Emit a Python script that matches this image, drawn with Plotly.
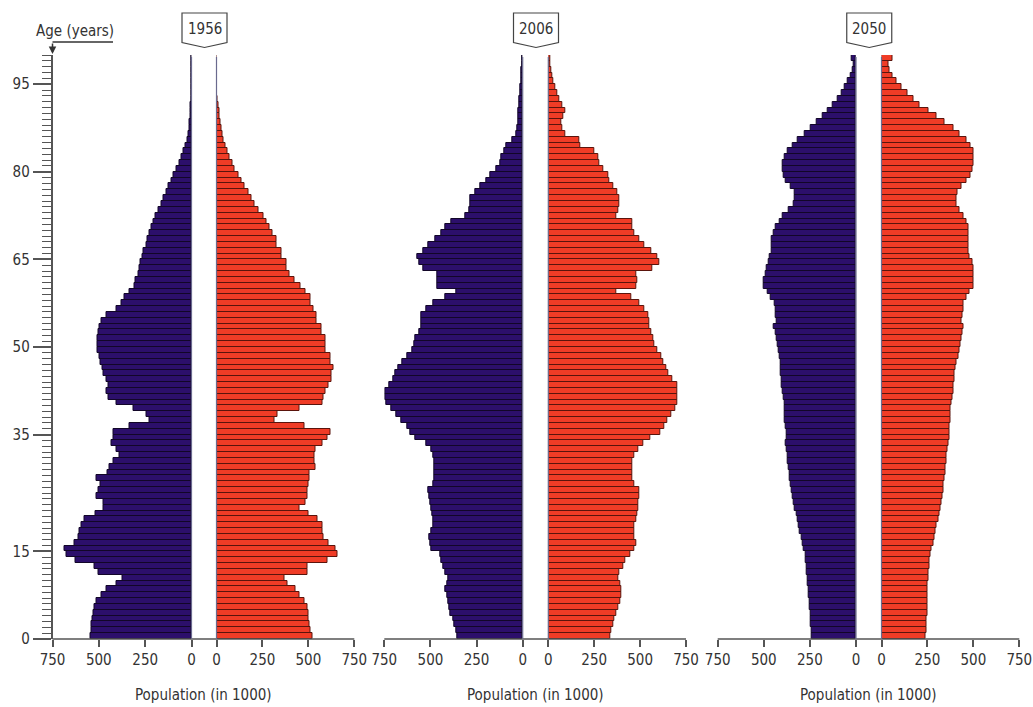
import plotly.graph_objects as go

ages = list(range(100))
major_ticks = [0, 15, 35, 50, 65, 80, 95]
x_ticks = [0, 250, 500, 750]
years = ["1956", "2006", "2050"]

male_1956 = [545,540,538,534,531,522,513,486,459,405,372,504,522,624,675,684,630,612,603,594,
             576,520,473,477,513,504,490,513,455,441,423,387,405,432,423,420,333,225,243,315,
             405,450,459,450,460,475,478,493,495,506,508,506,500,497,484,457,404,377,359,332,
             305,300,288,282,276,262,258,245,240,225,215,205,195,179,161,152,135,126,108,95,
             81,66,54,41,30,23,16,13,9,7,5,3,2,0,0,0,0,0,0,0]
female_1956 = [522,510,505,500,500,495,477,450,432,387,369,495,495,603,657,648,612,585,576,576,
               549,500,450,486,495,495,500,504,504,540,531,531,540,576,603,620,477,315,333,450,
               576,585,594,612,627,627,636,618,618,591,591,591,573,573,545,545,527,509,509,482,
               455,427,400,382,382,355,355,327,327,305,291,273,255,227,209,191,173,155,136,118,
               100,85,73,58,47,40,33,27,22,18,15,11,8,0,0,0,0,0,0,0]
male_2006 = [353,359,368,377,391,399,404,410,417,410,404,417,431,440,449,495,500,504,495,486,
             485,490,497,500,505,511,482,480,478,478,480,482,495,520,583,610,628,656,683,710,
             737,746,746,722,700,690,674,650,628,601,590,583,560,547,547,547,520,484,420,358,
             462,462,462,538,560,571,540,511,475,439,421,385,312,289,285,282,258,231,199,173,
             144,123,114,101,87,54,36,29,25,23,23,20,16,13,11,8,6,5,4,3]
female_2006 = [335,344,353,362,371,380,390,399,399,390,380,386,408,417,444,471,477,471,466,471,
               477,485,488,490,497,497,470,460,458,455,460,470,490,520,555,610,632,650,670,690,
               704,700,700,700,677,655,640,625,614,596,578,570,560,551,551,547,524,497,452,370,
               479,482,479,569,605,596,560,524,497,470,460,455,370,380,388,388,375,352,334,325,
               298,280,271,253,172,168,92,78,72,82,90,78,62,50,38,28,22,17,12,9]
male_2050 = [239,242,245,246,248,250,252,255,257,260,263,266,270,272,275,282,288,296,303,310,
             317,323,330,336,342,348,353,358,362,366,370,373,375,379,375,377,379,384,385,386,
             388,392,397,402,405,408,410,411,415,420,426,429,438,448,432,435,433,440,460,478,
             500,498,490,485,475,466,457,457,455,448,437,415,395,365,336,330,333,352,380,394,
             397,397,388,370,345,315,280,245,215,180,152,128,100,80,62,45,30,16,11,23]
female_2050 = [241,243,245,246,248,248,248,249,250,252,254,256,259,262,266,273,281,288,295,302,
               308,315,321,327,332,336,339,343,346,350,353,356,359,362,368,370,371,375,377,378,
               380,385,390,394,397,399,403,408,417,422,429,435,440,448,435,440,444,446,462,480,
               500,502,502,502,495,478,475,475,475,475,472,462,444,426,408,408,412,435,462,485,
               495,502,502,500,484,462,426,390,345,300,255,209,173,141,110,83,61,43,38,61]

males = [male_1956, male_2006, male_2050]
females = [female_1956, female_2006, female_2050]
for s in males + females:
    assert len(s) == 100

W, H = 1033, 707
def px(x):
    return x / W
def py(y):
    return 1 - y / H

MALE_COL = "#2c0f6b"
FEMALE_COL = "#f03c26"
AXIS_COL = "#555555"
TEXT_COL = "#333333"
FONT = "DejaVu Sans Condensed, Liberation Sans Narrow, Arial Narrow, sans-serif"
FS = 15

# pixel extents of each half axis: (male_left, male_zero, female_zero, female_right)
panels = [(52.5, 191.5, 216.5, 354.3), (384.3, 522.7, 548.3, 686.0), (717.7, 856.0, 881.5, 1019.3)]
y_bottom, y_top = 639.0, 55.0

fig = go.Figure()
layout = dict(width=W, height=H, margin=dict(l=0, r=0, t=0, b=0, autoexpand=False),
              autosize=False,
              paper_bgcolor="white", plot_bgcolor="white", showlegend=False,
              bargap=0, barmode="overlay", font=dict(family=FONT, color=TEXT_COL, size=FS))
shapes = []
annotations = []
yc = [a + 0.5 for a in ages]

for i, (ml, mz, fz, fr) in enumerate(panels):
    xm = 2 * i + 1
    xf = 2 * i + 2
    xm_name = "x" if xm == 1 else f"x{xm}"
    xf_name = f"x{xf}"
    ym_name = "y" if xm == 1 else f"y{xm}"
    yf_name = f"y{xf}"
    fig.add_trace(go.Bar(y=yc, x=males[i], orientation="h", width=1,
                         marker=dict(color=MALE_COL, line=dict(color="#120628", width=1)),
                         xaxis=xm_name, yaxis=ym_name, hoverinfo="x+y"))
    fig.add_trace(go.Bar(y=yc, x=females[i], orientation="h", width=1,
                         marker=dict(color=FEMALE_COL, line=dict(color="#5a140c", width=1)),
                         xaxis=xf_name, yaxis=yf_name, hoverinfo="x+y"))
    for k, (a, b, rng, yname) in enumerate([(ml, mz, [750, 0], ym_name), (fz, fr, [0, 750], yf_name)]):
        xkey = "xaxis" if (xm == 1 and k == 0) else f"xaxis{xm + k}"
        layout[xkey] = dict(domain=[px(a), px(b)], range=rng, anchor=yname, automargin=False,
                            showgrid=False, zeroline=False, showline=False,
                            tickmode="array", tickvals=x_ticks, ticks="outside",
                            ticklen=7, tickwidth=1.5, tickcolor=AXIS_COL,
                            tickfont=dict(family=FONT, size=FS, color=TEXT_COL), fixedrange=True)
    # bottom axis line across panel
    shapes.append(dict(type="line", xref="paper", yref="paper", x0=px(ml), x1=px(fr),
                       y0=py(y_bottom), y1=py(y_bottom), line=dict(color=AXIS_COL, width=1.5)))
    # zero lines
    for zx in (mz, fz):
        shapes.append(dict(type="line", xref="paper", yref="paper", x0=px(zx), x1=px(zx),
                           y0=py(y_bottom), y1=py(57), line=dict(color="#6a6a8e", width=1.2)))
    # year label box (pentagon)
    cx = (mz + fz) / 2 + 0.5
    l, r, t, b, tip = cx - 22.5, cx + 22.5, 13, 42.5, 47.5
    path = (f"M {px(l)},{py(t)} L {px(r)},{py(t)} L {px(r)},{py(b)} L {px(cx)},{py(tip)} "
            f"L {px(l)},{py(b)} Z")
    shapes.append(dict(type="path", xref="paper", yref="paper", path=path,
                       line=dict(color="#444444", width=1.2), fillcolor="white"))
    annotations.append(dict(text=years[i], x=px(cx), y=py(29), xref="paper", yref="paper",
                            showarrow=False, xanchor="center", yanchor="middle",
                            font=dict(family=FONT, size=FS, color=TEXT_COL)))
    annotations.append(dict(text="Population (in 1000)", x=px((ml + fr) / 2), y=py(695),
                            xref="paper", yref="paper", showarrow=False,
                            xanchor="center", yanchor="middle",
                            font=dict(family=FONT, size=FS, color=TEXT_COL)))

ydom = [py(y_bottom), py(y_top)]
for j in range(1, 7):
    key = "yaxis" if j == 1 else f"yaxis{j}"
    xa = "x" if j == 1 else f"x{j}"
    if j == 1:
        layout[key] = dict(domain=ydom, range=[0, 100], anchor=xa, showgrid=False, zeroline=False,
                           automargin=False,
                           showline=True, linecolor=AXIS_COL, linewidth=1.5,
                           tickmode="array", tickvals=major_ticks, ticks="outside",
                           ticklen=18, tickwidth=1.5, tickcolor=AXIS_COL,
                           tickfont=dict(family=FONT, size=FS, color=TEXT_COL),
                           minor=dict(tickmode="linear", tick0=0, dtick=1, ticks="outside",
                                      ticklen=9, tickwidth=1.2, tickcolor=AXIS_COL, showgrid=False),
                           fixedrange=True)
    else:
        layout[key] = dict(domain=ydom, range=[0, 100], anchor=xa, visible=False,
                           automargin=False, fixedrange=True)

# Age label with bracket arrow
shapes.append(dict(type="line", xref="paper", yref="paper", x0=px(52.5), x1=px(113),
                   y0=py(42), y1=py(42), line=dict(color=TEXT_COL, width=1.5)))
annotations.append(dict(text="", x=px(52.5), y=py(54), ax=0, ay=-12,
                        xref="paper", yref="paper", axref="pixel", ayref="pixel",
                        showarrow=True, arrowhead=2, arrowsize=1, arrowwidth=1.5,
                        arrowcolor=TEXT_COL))
annotations.append(dict(text="Age (years)", x=px(75), y=py(31), xref="paper", yref="paper",
                        showarrow=False, xanchor="center", yanchor="middle",
                        font=dict(family=FONT, size=FS, color=TEXT_COL)))

layout["shapes"] = shapes
layout["annotations"] = annotations
fig.update_layout(**layout)
fig.write_html("out.html", config={"responsive": False, "displayModeBar": False},
               post_script="document.body.style.margin='0';document.body.style.overflow='hidden';")
